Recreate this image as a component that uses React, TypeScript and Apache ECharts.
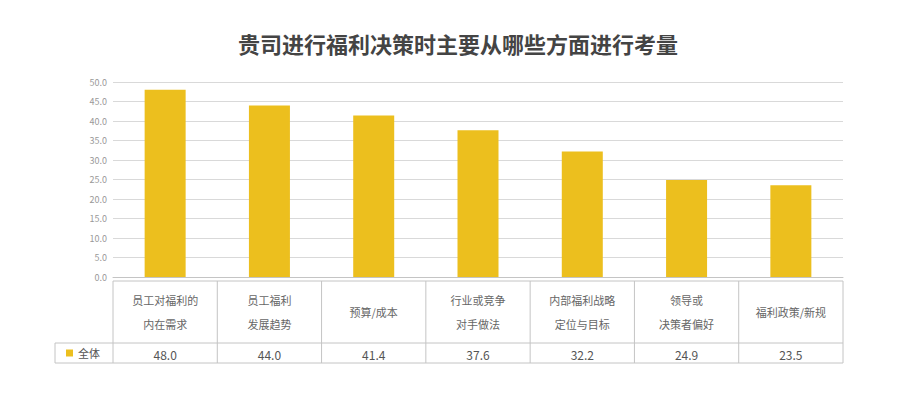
import React, { useEffect, useRef } from "react";
import * as echarts from "echarts";

const titleText = "贵司进行福利决策时主要从哪些方面进行考量";
const categories = [
  "员工对福利的\n内在需求",
  "员工福利\n发展趋势",
  "预算/成本",
  "行业或竞争\n对手做法",
  "内部福利战略\n定位与目标",
  "领导或\n决策者偏好",
  "福利政策/新规",
];
const values = [48.0, 44.0, 41.4, 37.6, 32.2, 24.9, 23.5];
const seriesName = "全体";

const FONT = "'Noto Sans CJK SC', 'Noto Sans', sans-serif";
const BAR = "#ECBF1E";
const LINE = "#c4c4c4";

export default function App() {
  const ref = useRef<HTMLDivElement>(null);
  useEffect(() => {
    if (!ref.current) return;
    const chart = echarts.init(ref.current, undefined, { renderer: "svg" });
    const gridTop = 82;
    const gridBottom = 393 - 277;
    chart.setOption({
      animation: false,
      textStyle: { fontFamily: FONT },
      title: {
        text: titleText,
        left: "center",
        top: 27,
        textStyle: { fontSize: 22, fontWeight: "bold", color: "#444", fontFamily: FONT },
      },
      grid: { left: 113, right: 73, top: gridTop, bottom: gridBottom },
      xAxis: [
        {
          type: "category",
          data: categories,
          axisLine: { show: true, lineStyle: { color: LINE } },
          axisTick: { show: false },
          axisLabel: {
            interval: 0,
            margin: 35,
            verticalAlign: "middle",
            lineHeight: 24,
            fontSize: 11,
            color: "#666",
            fontFamily: FONT,
          },
        },
        {
          type: "category",
          position: "bottom",
          data: values.map((v) => v.toFixed(1)),
          axisLine: { show: false },
          axisTick: { show: false },
          axisLabel: {
            interval: 0,
            margin: 77,
            verticalAlign: "middle",
            fontSize: 12,
            color: "#555",
            fontFamily: FONT,
          },
        },
      ],
      yAxis: {
        type: "value",
        min: 0,
        max: 50,
        interval: 5,
        axisLine: { show: false },
        axisTick: { show: false },
        axisLabel: {
          fontSize: 9,
          color: "#999",
          margin: 6,
          formatter: (v: number) => v.toFixed(1),
        },
        splitLine: { lineStyle: { color: "#d9d9d9" } },
      },
      series: [
        {
          name: seriesName,
          type: "bar",
          data: values,
          barWidth: 41,
          itemStyle: { color: BAR },
        },
      ],
    });

    const c0 = chart.convertToPixel({ xAxisIndex: 0 }, 0) as number;
    const c1 = chart.convertToPixel({ xAxisIndex: 0 }, 1) as number;
    const band = c1 - c0;
    const left = c0 - band / 2;
    const right = left + band * categories.length;
    const tTop = 281;
    const tMid = 343;
    const tBot = 363;
    const legendLeft = 55;
    const ls = { stroke: LINE, lineWidth: 1 };
    const els: any[] = [];
    els.push({ type: "line", shape: { x1: left, y1: tTop, x2: right, y2: tTop }, style: ls, silent: true });
    els.push({ type: "line", shape: { x1: legendLeft, y1: tMid, x2: right, y2: tMid }, style: ls, silent: true });
    els.push({ type: "line", shape: { x1: legendLeft, y1: tBot, x2: right, y2: tBot }, style: ls, silent: true });
    els.push({ type: "line", shape: { x1: legendLeft, y1: tMid, x2: legendLeft, y2: tBot }, style: ls, silent: true });
    for (let i = 0; i <= categories.length; i++) {
      const x = left + band * i;
      els.push({ type: "line", shape: { x1: x, y1: tTop, x2: x, y2: tBot }, style: ls, silent: true });
    }
    els.push({ type: "rect", shape: { x: 66, y: 349.5, width: 7, height: 7 }, style: { fill: BAR }, silent: true });
    els.push({
      type: "text",
      x: 78,
      y: 353,
      style: { text: seriesName, font: `11px ${FONT}`, fill: "#555", verticalAlign: "middle", align: "left" },
      silent: true,
    });
    chart.setOption({ graphic: { elements: els } });

    return () => chart.dispose();
  }, []);
  return (
    <div
      ref={ref}
      style={{ position: "fixed", left: 0, top: 0, width: 916, height: 393, background: "#fff" }}
    />
  );
}
